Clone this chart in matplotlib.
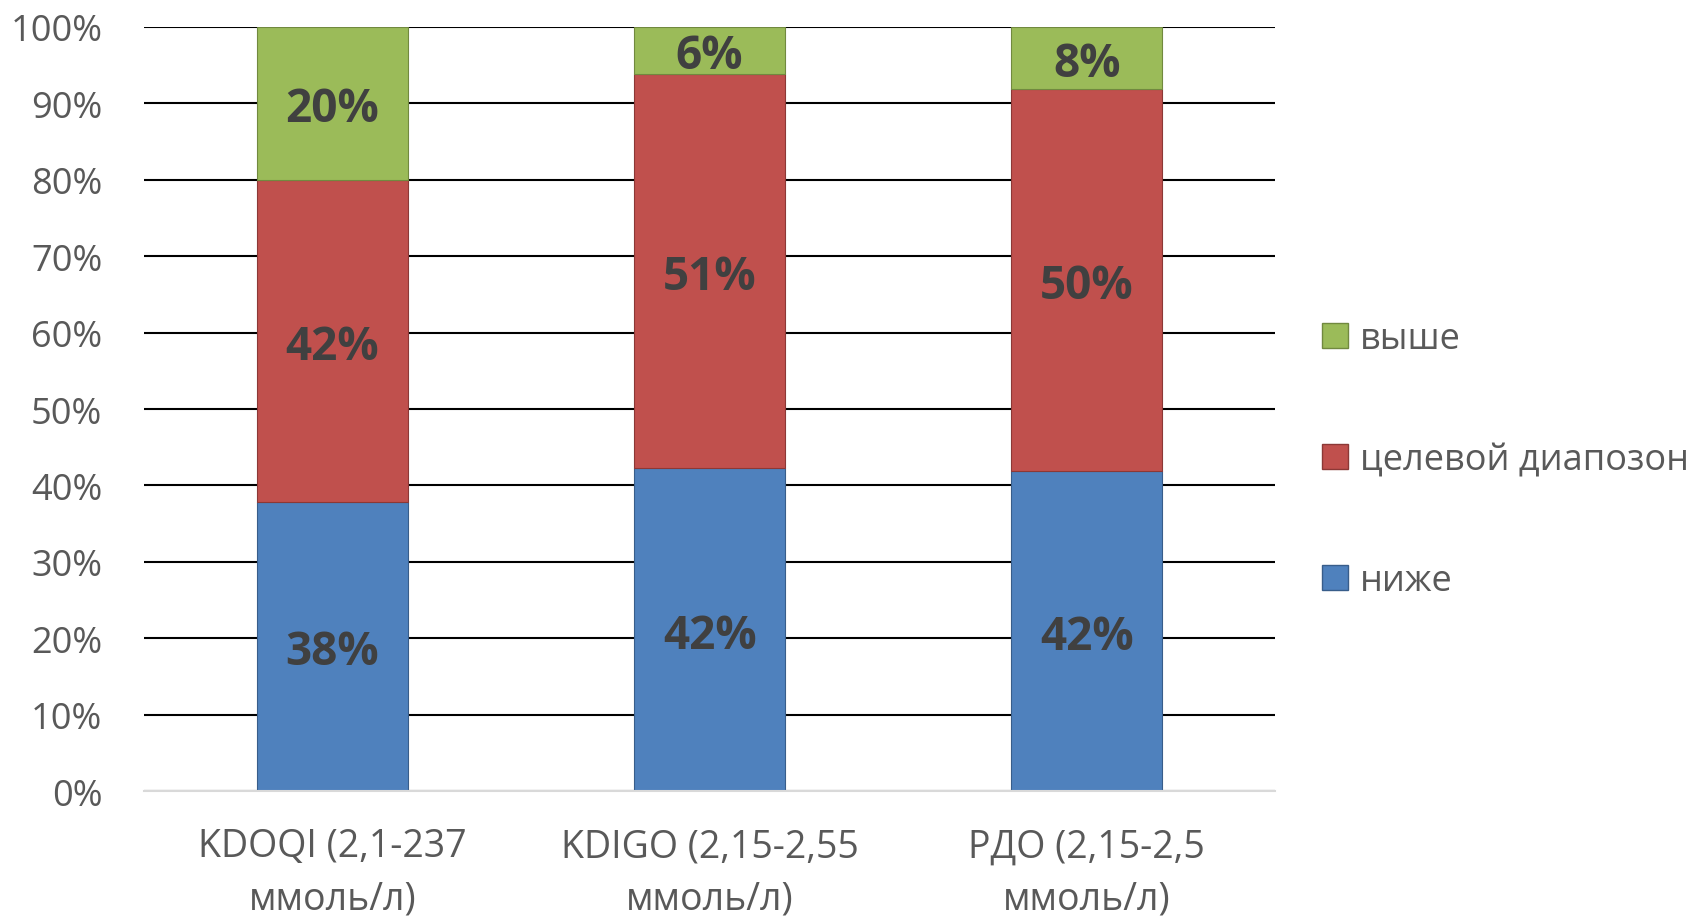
import matplotlib
matplotlib.use("Agg")
import matplotlib.pyplot as plt
import matplotlib.transforms as mtransforms
from matplotlib.patches import Patch
import numpy as np

categories = ["KDOQI (2,1-237\nммоль/л)", "KDIGO (2,15-2,55\nммоль/л)", "РДО (2,15-2,5\nммоль/л)"]
lower = [37.9, 42.3, 41.9]
target = [42.1, 51.6, 50.0]
upper = [20.0, 6.1, 8.1]
lower_lbl = ["38%", "42%", "42%"]
target_lbl = ["42%", "51%", "50%"]
upper_lbl = ["20%", "6%", "8%"]
series_names = ["ниже", "целевой диапозон", "выше"]
yticks = [0, 10, 20, 30, 40, 50, 60, 70, 80, 90, 100]

plt.rcParams['font.family'] = ['Open Sans', 'DejaVu Sans']

fig = plt.figure(figsize=(16.98, 9.2), dpi=100)
ax = fig.add_axes([0.0848, 0.139, 0.6662, 0.8306])

colors = ["#4f81bd", "#c0504d", "#9bbb59"]
edges = ["#385d8a", "#8c3836", "#71893f"]
x = np.arange(len(categories))
w = 0.4
lbl_tr = mtransforms.offset_copy(ax.transData, fig=fig, x=0, y=-4, units='points')
bottom = np.zeros(len(categories))
for vals, lbls, c, e in zip([lower, target, upper], [lower_lbl, target_lbl, upper_lbl], colors, edges):
    bars = ax.bar(x, vals, w, bottom=bottom, color=c, edgecolor=e, linewidth=0.8, zorder=3)
    for xi, b, v, l in zip(x, bottom, vals, lbls):
        ax.text(xi, b + v / 2, l, ha='center', va='center', fontsize=33,
                fontweight='bold', color='#404040', zorder=4, transform=lbl_tr)
    bottom = bottom + np.array(vals)

ax.set_xlim(-0.5, 2.5)
ax.set_ylim(0, 100)
ax.set_yticks(yticks)
ax.set_yticklabels([f"{t}%" for t in yticks])
ax.set_xticks(x)
ax.set_xticklabels(categories, fontsize=27, color='#595959', linespacing=1.5)
ax.tick_params(axis='y', length=0, pad=30, labelsize=26, labelcolor='#595959')
ax.tick_params(axis='x', length=0, pad=26)
ax.yaxis.grid(True, color='black', linewidth=1.5, zorder=0)
ax.set_axisbelow(True)
for s in ['top', 'right', 'left']:
    ax.spines[s].set_visible(False)
ax.spines['bottom'].set_color('#d9d9d9')
ax.spines['bottom'].set_linewidth(1.5)
ax.spines['bottom'].set_zorder(5)

handles = [Patch(facecolor=colors[i], edgecolor=edges[i], label=series_names[i]) for i in [2, 1, 0]]
leg = ax.legend(handles=handles, loc='center left', bbox_to_anchor=(1.013, 0.433),
                frameon=False, fontsize=26, labelspacing=2.35, handlelength=0.7,
                handleheight=0.7, handletextpad=0.35, labelcolor='#595959')

fig.savefig("out.png", dpi=100)
